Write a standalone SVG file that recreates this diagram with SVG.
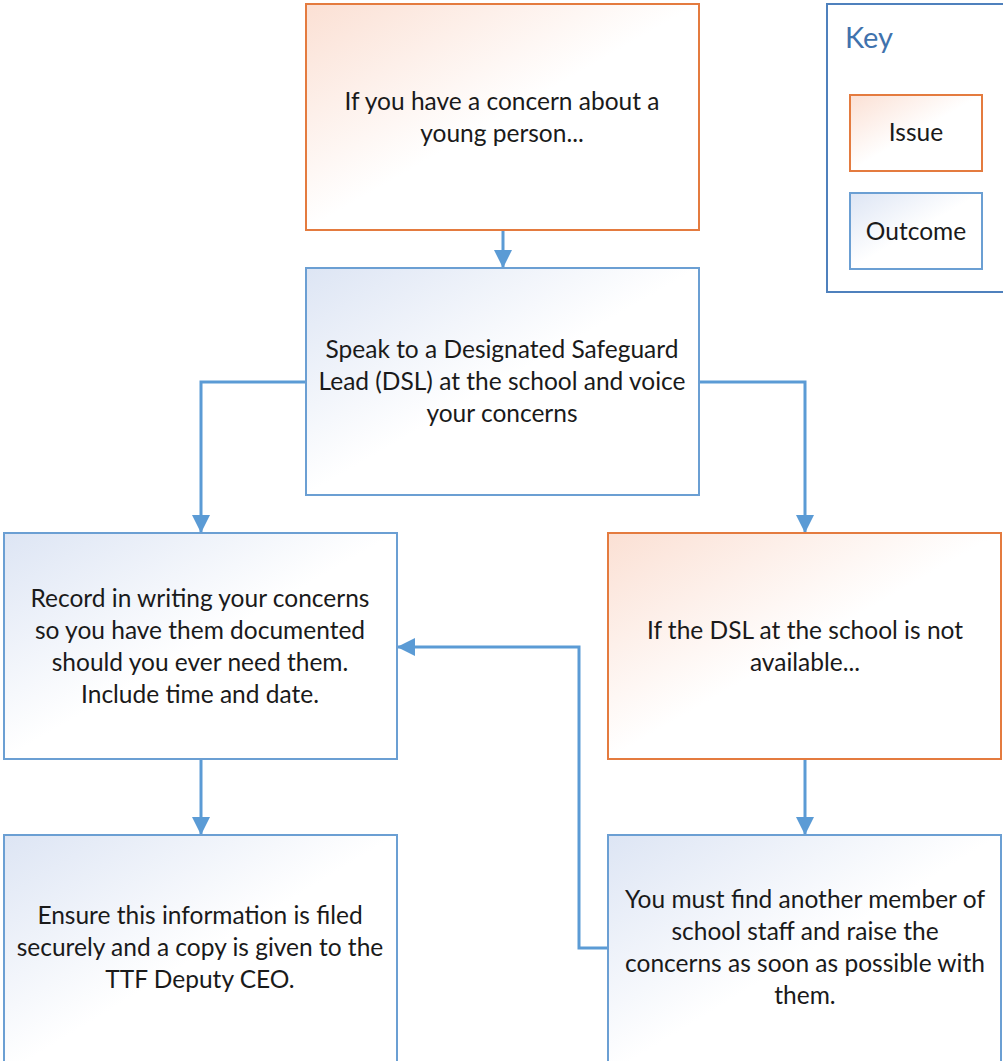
<svg xmlns="http://www.w3.org/2000/svg" width="1003" height="1061" viewBox="0 0 1003 1061">
<defs>
<linearGradient id="gIssue" x1="0" y1="0" x2="1" y2="1">
<stop offset="0" stop-color="#fbe0d4"/>
<stop offset="0.5" stop-color="#ffffff"/>
<stop offset="1" stop-color="#ffffff"/>
</linearGradient>
<linearGradient id="gOut" x1="0" y1="0" x2="1" y2="1">
<stop offset="0" stop-color="#dde5f4"/>
<stop offset="0.5" stop-color="#ffffff"/>
<stop offset="1" stop-color="#ffffff"/>
</linearGradient>
<marker id="arr" viewBox="0 0 10 10" refX="10" refY="5" markerWidth="6" markerHeight="6" markerUnits="strokeWidth" orient="auto">
<path d="M0,0 L10,5 L0,10 z" fill="#5b9bd5"/>
</marker>
</defs>
<style>
.issue{fill:url(#gIssue);stroke:#e47b3f;stroke-width:2}
.out{fill:url(#gOut);stroke:#6b9fd3;stroke-width:2}
.t{font-family:Lato,"Liberation Sans",sans-serif;font-size:24.5px;fill:#1a1a1a;text-anchor:middle}
.c{fill:none;stroke:#5b9bd5;stroke-width:3;marker-end:url(#arr)}
</style>
<rect width="1003" height="1061" fill="#ffffff"/>
<g id="connectors">
<path class="c" d="M503,230 V268"/>
<path class="c" d="M306,382 H201 V533"/>
<path class="c" d="M699,382 H805 V533"/>
<path class="c" d="M201,759 V835"/>
<path class="c" d="M805,759 V835"/>
<path class="c" d="M608,948 H579 V647 H397"/>
</g>
<g id="n1"><rect class="issue" x="306" y="4" width="393" height="226"/>
<text class="t" x="502" y="110">If you have a concern about a</text>
<text class="t" x="502" y="142">young person...</text></g>
<g id="n2"><rect class="out" x="306" y="268" width="393" height="227"/>
<text class="t" x="502" y="358">Speak to a Designated Safeguard</text>
<text class="t" x="502" y="390">Lead (DSL) at the school and voice</text>
<text class="t" x="502" y="422">your concerns</text></g>
<g id="n3"><rect class="out" x="4" y="533" width="393" height="226"/>
<text class="t" x="200" y="607">Record in writing your concerns</text>
<text class="t" x="200" y="639">so you have them documented</text>
<text class="t" x="200" y="671">should you ever need them.</text>
<text class="t" x="200" y="703">Include time and date.</text></g>
<g id="n4"><rect class="issue" x="608" y="533" width="393" height="226"/>
<text class="t" x="805" y="639">If the DSL at the school is not</text>
<text class="t" x="805" y="671">available...</text></g>
<g id="n5"><rect class="out" x="4" y="835" width="393" height="240"/>
<text class="t" x="200" y="924">Ensure this information is filed</text>
<text class="t" x="200" y="956">securely and a copy is given to the</text>
<text class="t" x="200" y="988">TTF Deputy CEO.</text></g>
<g id="n6"><rect class="out" x="608" y="835" width="393" height="240"/>
<text class="t" x="805" y="908">You must find another member of</text>
<text class="t" x="805" y="940">school staff and raise the</text>
<text class="t" x="805" y="972">concerns as soon as possible with</text>
<text class="t" x="805" y="1004">them.</text></g>
<g id="key"><rect x="827" y="4" width="190" height="288" fill="#ffffff" stroke="#4f81bd" stroke-width="2"/>
<text x="845" y="48" style="font-family:Lato,'Liberation Sans',sans-serif;font-size:29px;fill:#3f72ad">Key</text>
<g id="key-issue"><rect class="issue" x="850" y="95" width="132" height="76"/>
<text class="t" x="916" y="141">Issue</text></g>
<g id="key-outcome"><rect class="out" x="850" y="193" width="132" height="76"/>
<text class="t" x="916" y="240">Outcome</text></g></g>
</svg>
